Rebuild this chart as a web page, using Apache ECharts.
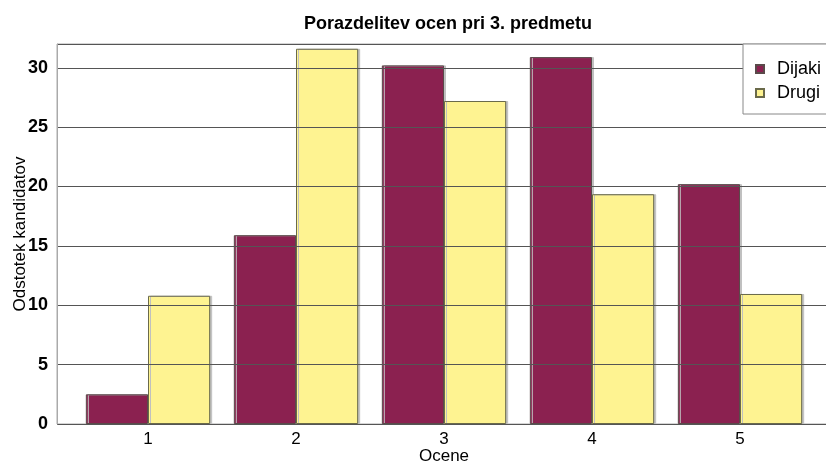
<!DOCTYPE html>
<html>
<head>
<meta charset="utf-8">
<script src="https://cdn.jsdelivr.net/npm/echarts@6/dist/echarts.min.js"></script>
<style>
  html, body { margin: 0; padding: 0; background: #fff; }
  #main { width: 826px; height: 463px; }
</style>
</head>
<body>
<div id="main"></div>
<script>
// grades and percentages
const grades = ['1', '2', '3', '4', '5'];
const dijaki = [2.5, 15.9, 30.2, 30.9, 20.2];
const drugi = [10.8, 31.6, 27.2, 19.35, 10.95];

const font = '"Liberation Sans", Arial, sans-serif';

const chart = echarts.init(document.getElementById('main'));

const barBase = {
    type: 'bar',
    xAxisIndex: 1,
    yAxisIndex: 1,
    barGap: '0%',
    barCategoryGap: '16%',
    z: 2
};

const option = {
    animation: false,
    textStyle: { fontFamily: font },
    title: {
        text: 'Porazdelitev ocen pri 3. predmetu',
        left: 443,
        textAlign: 'center',
        top: 10,
        textStyle: { fontSize: 18, fontWeight: 'bold', color: '#000', fontFamily: font }
    },
    legend: {
        orient: 'vertical',
        left: 743,
        top: 44,
        padding: [16, 40, 12, 12],
        itemWidth: 8,
        itemHeight: 8,
        itemGap: 6,
        icon: 'rect',
        borderColor: '#888',
        borderWidth: 1,
        backgroundColor: '#fff',
        z: 10,
        textStyle: { fontSize: 18, color: '#000', fontFamily: font, padding: [0, 0, 0, 8] },
        data: ['Dijaki', 'Drugi']
    },
    grid: [
        { left: 57, right: -3, top: 44, bottom: 39, show: true, borderColor: '#aaa', borderWidth: 1, outerBoundsMode: 'none' },
        { left: 74, right: 12, top: 44, bottom: 39, outerBoundsMode: 'none' }
    ],
    xAxis: [
        {
            gridIndex: 0, type: 'value', min: 0, max: 1,
            axisLine: { show: false }, axisTick: { show: false },
            axisLabel: { show: false }, splitLine: { show: false }
        },
        {
            gridIndex: 1, type: 'category', data: grades,
            name: 'Ocene', nameLocation: 'middle', nameGap: 24, nameMoveOverlap: false,
            nameTextStyle: { fontSize: 17, color: '#000', fontFamily: font },
            axisLine: { show: false }, axisTick: { show: false },
            axisLabel: { fontSize: 17, color: '#000', margin: 7, fontFamily: font }
        }
    ],
    yAxis: [
        {
            gridIndex: 0, type: 'value', min: 0, max: 32, interval: 5, z: 3,
            name: 'Odstotek kandidatov', nameLocation: 'middle', nameGap: 28, nameMoveOverlap: false,
            nameTextStyle: { fontSize: 17, color: '#000', fontFamily: font },
            axisLine: { show: true, lineStyle: { color: '#aaa', width: 1 } },
            axisTick: { show: false },
            axisLabel: {
                fontSize: 18, fontWeight: 'bold', color: '#000', margin: 9, fontFamily: font,
                showMaxLabel: false
            },
            splitLine: { show: true, lineStyle: { color: '#555', width: 1 } }
        },
        {
            gridIndex: 1, type: 'value', min: 0, max: 32,
            axisLine: { show: false }, axisTick: { show: false },
            axisLabel: { show: false }, splitLine: { show: false }
        }
    ],
    series: [
        Object.assign({}, barBase, {
            name: 'Dijaki',
            data: dijaki,
            itemStyle: {
                color: '#8b2150', borderColor: '#5a4a4a', borderWidth: 1,
                shadowColor: '#c0c0c0', shadowOffsetX: 2, shadowBlur: 0
            }
        }),
        Object.assign({}, barBase, {
            name: 'Drugi',
            data: drugi,
            itemStyle: {
                color: '#fef391', borderColor: '#6a6a4a', borderWidth: 1,
                shadowColor: '#c0c0c0', shadowOffsetX: 2, shadowBlur: 0
            }
        })
    ]
};

chart.setOption(option);
</script>
</body>
</html>
